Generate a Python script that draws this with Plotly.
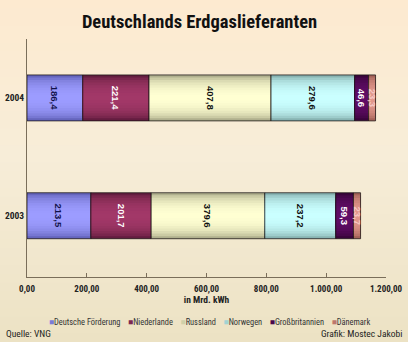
import numpy as np
import plotly.graph_objects as go

# Erdgaslieferungen nach Deutschland, in Mrd. kWh
years = ["2003", "2004"]
suppliers = ["Deutsche Förderung", "Niederlande", "Russland", "Norwegen",
             "Großbritannien", "Dänemark"]
deutsche_foerderung = [213.5, 186.4]
niederlande = [201.7, 221.4]
russland = [379.6, 407.8]
norwegen = [237.2, 279.6]
grossbritannien = [59.3, 46.6]
daenemark = [23.7, 23.3]
x_ticks = [0, 200, 400, 600, 800, 1000, 1200]

series = [deutsche_foerderung, niederlande, russland, norwegen,
          grossbritannien, daenemark]

# (edge colour, centre colour, label colour) per supplier: cylinder shading
palette = [
    ("#4a4a9c", "#9c9cff", "#12124a"),
    ("#46102c", "#a23868", "#ffffff"),
    ("#8a8a6c", "#ffffd2", "#111111"),
    ("#68908e", "#caffff", "#111111"),
    ("#260026", "#600c66", "#ffffff"),
    ("#86483e", "#e2988c", "#f6c8c4"),
]

NARROW = "Roboto Condensed, Liberation Sans, Arial, sans-serif"
SANS = "Liberation Sans, Arial, sans-serif"

W, H = 408, 342
ML, MR, MT, MB = 27, 22, 39, 65
PW, PH = W - ML - MR, H - MT - MB
BAR_W = 0.39
N_LAYERS = 9


def mix(c1, c2, t):
    a = np.array([int(c1[i:i + 2], 16) for i in (1, 3, 5)], dtype=float)
    b = np.array([int(c2[i:i + 2], 16) for i in (1, 3, 5)], dtype=float)
    r, g, bl = (a + (b - a) * t).round().astype(int)
    return f"rgb({r},{g},{bl})"


def fmt(v):
    return f"{v:.1f}".replace(".", ",")


values = np.array(series, dtype=float)
bases = np.vstack([np.zeros(values.shape[1]), np.cumsum(values, axis=0)[:-1]])

fig = go.Figure()

for i, name in enumerate(suppliers):
    edge, centre, txt = palette[i]
    # stacked narrower bands, lighter toward the middle of the bar
    for k in range(N_LAYERS):
        f_out = 1 - k / N_LAYERS
        f_in = 1 - (k + 1) / N_LAYERS
        d = (f_out + f_in) / 2
        t = np.sqrt(max(0.0, 1 - d * d))
        fig.add_trace(go.Bar(
            y=years, x=values[i], base=bases[i], orientation="h",
            width=BAR_W * f_out, marker=dict(color=mix(edge, centre, t), line=dict(width=0)),
            name=name, showlegend=False, hoverinfo="skip",
        ))
    # outline and value label
    fig.add_trace(go.Bar(
        y=years, x=values[i], base=bases[i], orientation="h", width=BAR_W,
        marker=dict(color="rgba(0,0,0,0)", line=dict(color="rgba(25,20,20,0.85)", width=0.9)),
        text=[fmt(v) for v in values[i]], textposition="inside",
        insidetextanchor="middle", textangle=90,
        textfont=dict(family=SANS, size=9.5, color=txt, weight="bold"),
        name=name, showlegend=False,
        hovertemplate=name + ": %{x}<extra></extra>",
    ))

# soft vertical background gradient over the whole canvas
x0p, x1p = -ML / PW, 1 + MR / PW
y0p, y1p = -MB / PH, 1 + MT / PH
stops = [(0.0, "#fdead0"), (0.45, "#f7edd8"), (1.0, "#ece2c4")]
n_strips = 40
shapes = []
for s in range(n_strips):
    t0 = s / n_strips
    t1 = (s + 1) / n_strips
    tm = (t0 + t1) / 2
    if tm <= stops[1][0]:
        col = mix(stops[0][1], stops[1][1], tm / stops[1][0])
    else:
        col = mix(stops[1][1], stops[2][1], (tm - stops[1][0]) / (1 - stops[1][0]))
    shapes.append(dict(
        type="rect", xref="paper", yref="paper", layer="below",
        x0=x0p, x1=x1p, y0=y1p - (y1p - y0p) * t1 - 0.002, y1=y1p - (y1p - y0p) * t0,
        fillcolor=col, line=dict(width=0),
    ))

# one-line key: coloured square followed by the supplier name
legend_text = "&nbsp;&nbsp;&nbsp;&nbsp;".join(
    f"<span style='color:{mix(palette[i][0], palette[i][1], 0.6)}'>■</span>{name}"
    for i, name in enumerate(suppliers)
)

fig.update_layout(
    width=W, height=H,
    margin=dict(l=ML, r=MR, t=MT, b=MB),
    barmode="overlay",
    separators=",.",
    paper_bgcolor="#f5ecd6",
    plot_bgcolor="rgba(0,0,0,0)",
    shapes=shapes,
    showlegend=False,
    uniformtext=dict(minsize=9.5, mode="show"),
    title=dict(
        text="<b>Deutschlands Erdgaslieferanten</b>",
        x=0.489, xanchor="center", y=1 - 22 / H, yanchor="middle",
        font=dict(family=NARROW, size=18.5, color="#111111"),
    ),
    xaxis=dict(
        range=[0, 1200], tickvals=x_ticks, tickformat=",.2f",
        ticks="inside", ticklen=4, tickcolor="#7a6e5a",
        showline=True, linecolor="#7a6e5a", linewidth=1,
        showgrid=False, zeroline=False, ticklabelstandoff=3,
        tickfont=dict(family=NARROW, size=9, color="#222222", weight="bold"),
        title=dict(text="<b>in Mrd. kWh</b>", standoff=1,
                   font=dict(family=NARROW, size=9.5, color="#222222")),
        automargin=False, fixedrange=True,
    ),
    yaxis=dict(
        type="category", categoryorder="array", categoryarray=years,
        range=[-0.52, 1.5],
        showline=True, linecolor="#7a6e5a", linewidth=1,
        showgrid=False, zeroline=False, ticks="",
        tickfont=dict(family=NARROW, size=9.5, color="#222222", weight="bold"),
        automargin=False, fixedrange=True,
    ),
    annotations=[
        dict(text=legend_text, xref="paper", yref="paper",
             x=(209 - ML) / PW, y=-(322 - (MT + PH)) / PH,
             xanchor="center", yanchor="middle", showarrow=False,
             font=dict(family=NARROW, size=8.4, color="#333333")),
        dict(text="Quelle: VNG", xref="paper", yref="paper",
             x=(4 - ML) / PW, y=-(333 - (MT + PH)) / PH,
             xanchor="left", yanchor="middle", showarrow=False,
             font=dict(family=NARROW, size=9.5, color="#222222")),
        dict(text="Grafik: Mostec Jakobi", xref="paper", yref="paper",
             x=(404 - ML) / PW, y=-(333 - (MT + PH)) / PH,
             xanchor="right", yanchor="middle", showarrow=False,
             font=dict(family=NARROW, size=9.5, color="#222222")),
    ],
)

fig.write_html("out.html")
